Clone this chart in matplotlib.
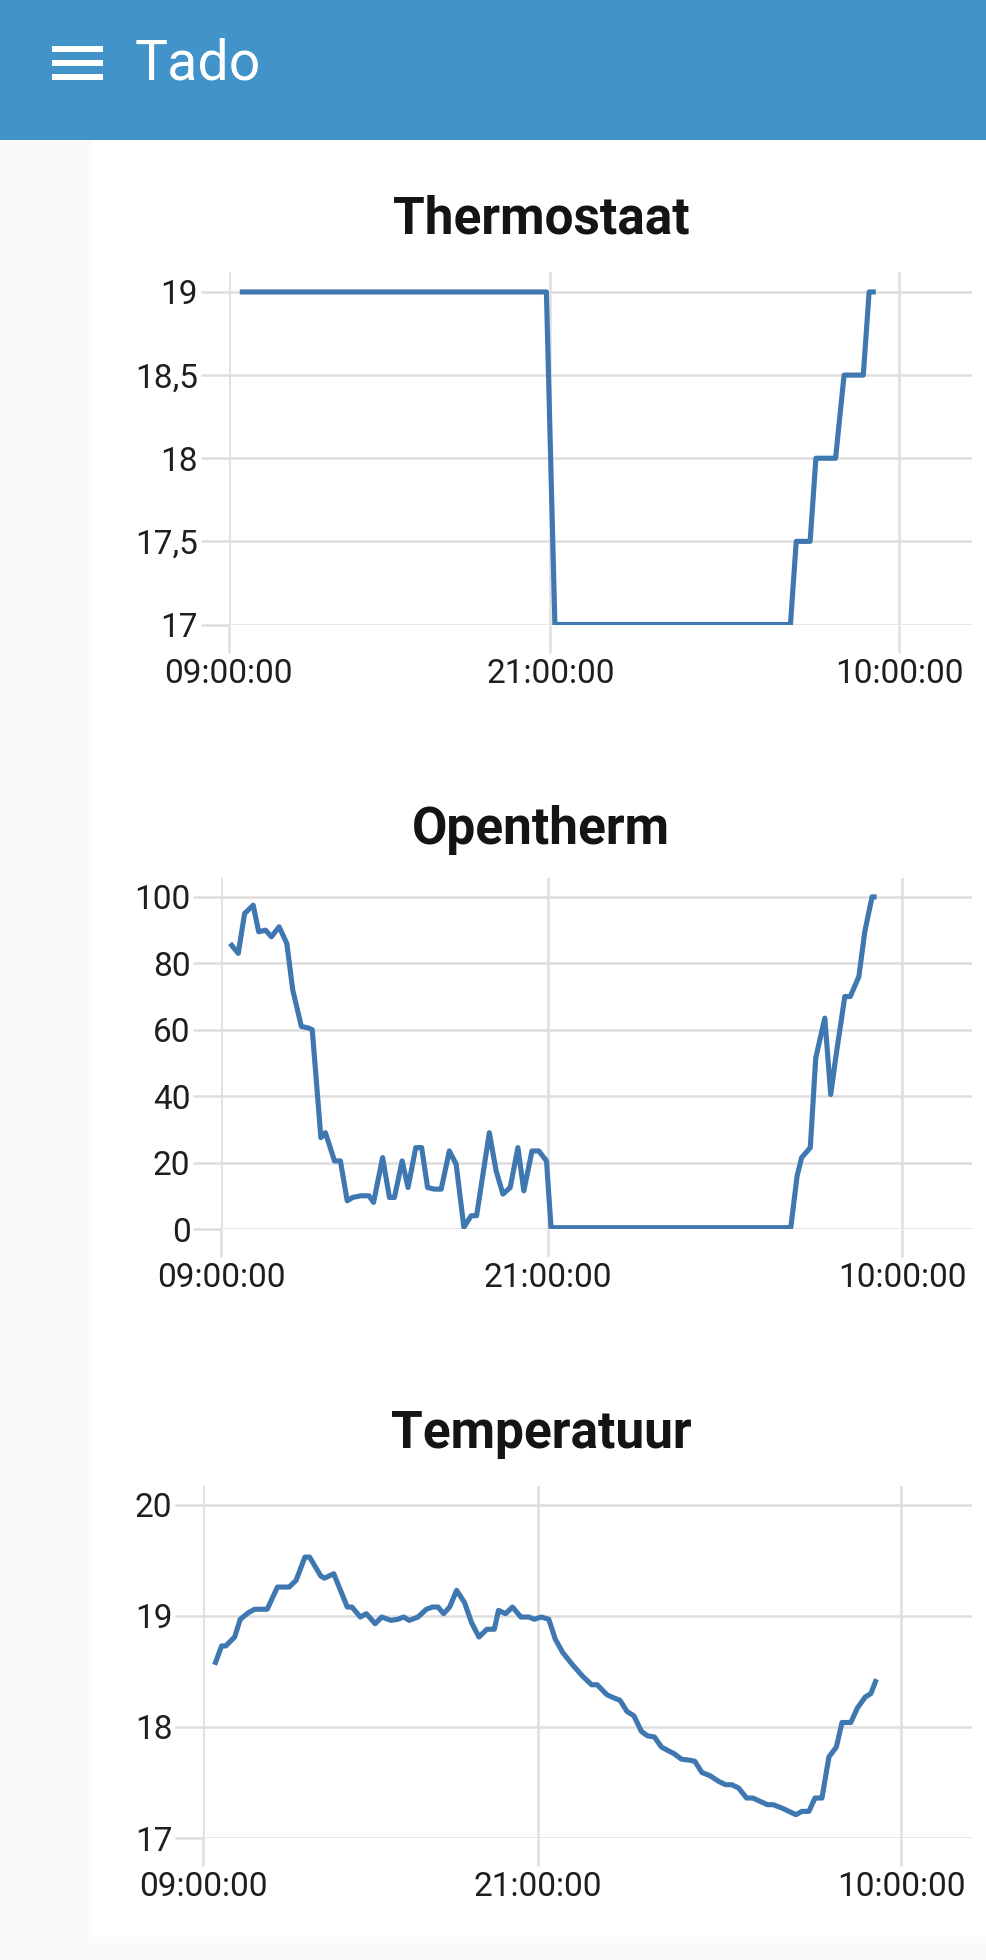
import matplotlib
matplotlib.use("Agg")
import matplotlib.pyplot as plt
import matplotlib.dates as mdates
from matplotlib.patches import Rectangle
import pandas as pd

#-Colors--------------------------------------------
header_blue = "#4193c9"
page_gray = "#fafafa"
line_blue = "#3f77b0"
grid_gray = "#dedede"
text_dark = "#1e1e1e"
#--------------------------------------------------

# Thermostaat setpoint (graden)
thermo_times = ["09:25", "20:51", "21:10", "05:57", "06:10", "06:41",
                "06:54", "07:38", "07:57", "08:40", "08:53", "09:08"]
thermo_values = [19, 19, 17, 17, 17.5, 17.5, 18, 18, 18.5, 18.5, 19, 19]

# Opentherm modulatie (%)
ot_times = ["09:20", "09:38", "09:52", "10:11", "10:23", "10:38", "10:51", "11:08",
            "11:25", "11:38", "11:57", "12:13", "12:21", "12:40", "12:50", "13:10",
            "13:23", "13:38", "13:50", "14:08", "14:26", "14:36", "14:56", "15:11",
            "15:22", "15:39", "15:52", "16:09", "16:22", "16:35", "16:50", "17:05",
            "17:23", "17:38", "17:55", "18:11", "18:23", "18:51", "19:06", "19:21",
            "19:37", "19:54", "20:07", "20:25", "20:40", "20:57", "21:07", "05:55",
            "06:09", "06:19", "06:38", "06:50", "07:10", "07:23", "07:35", "07:54",
            "08:06", "08:25", "08:38", "08:54", "09:04"]
ot_values = [86, 83, 95, 97.5, 89.5, 90, 88, 91,
             86, 72, 61, 60.5, 60, 27.5, 29, 20.5,
             20.5, 8.5, 9.5, 10, 10, 8, 21.5, 9.5,
             9.5, 20.5, 12.5, 24.5, 24.5, 12.5, 12, 12,
             23.5, 19.5, 0.5, 4, 4, 29, 17.5, 10.5,
             12.5, 24.5, 11.5, 23.5, 23.5, 20.5, 0.4, 0.4,
             16, 21.5, 24.5, 51.5, 63.5, 40.5, 52.5, 70,
             70, 76, 89.5, 100, 100]

# Kamertemperatuur (graden)
temp_times = ["09:25", "09:40", "09:49", "10:08", "10:20", "10:38", "10:51", "11:18",
              "11:40", "12:05", "12:20", "12:39", "12:49", "13:13", "13:21", "13:41",
              "14:10", "14:20", "14:38", "14:51", "15:10", "15:24", "15:44", "15:59",
              "16:11", "16:23", "16:42", "17:00", "17:13", "17:25", "17:37", "17:50",
              "18:05", "18:22", "18:37", "18:53", "19:10", "19:26", "19:35", "19:50",
              "20:05", "20:23", "20:40", "20:52", "21:07", "21:23", "21:37", "21:53",
              "22:14", "22:35", "22:55", "23:07", "23:28", "23:44", "23:56", "00:11",
              "00:26", "00:42", "00:55", "01:10", "01:25", "01:38", "01:52", "02:08",
              "02:27", "02:37", "02:52", "03:10", "03:28", "03:43", "03:56", "04:11",
              "04:28", "04:42", "04:57", "05:13", "05:25", "05:44", "05:59", "06:14",
              "06:27", "06:42", "06:55", "07:10", "07:25", "07:41", "07:53", "08:12",
              "08:26", "08:43", "08:55", "09:07"]
temp_values = [18.56, 18.73, 18.73, 18.81, 18.97, 19.03, 19.06, 19.06,
               19.26, 19.26, 19.32, 19.53, 19.53, 19.36, 19.34, 19.38,
               19.08, 19.08, 18.99, 19.02, 18.93, 18.99, 18.96, 18.97,
               18.99, 18.96, 18.99, 19.06, 19.08, 19.08, 19.02, 19.08,
               19.23, 19.12, 18.94, 18.81, 18.88, 18.88, 19.05, 19.02,
               19.08, 18.99, 18.99, 18.97, 18.99, 18.97, 18.79, 18.67,
               18.56, 18.46, 18.38, 18.38, 18.29, 18.26, 18.24, 18.14,
               18.10, 17.96, 17.92, 17.91, 17.82, 17.79, 17.76, 17.71,
               17.70, 17.69, 17.59, 17.56, 17.51, 17.48, 17.48, 17.45,
               17.36, 17.36, 17.33, 17.30, 17.30, 17.27, 17.24, 17.21,
               17.24, 17.24, 17.36, 17.36, 17.73, 17.82, 18.04, 18.04,
               18.17, 18.27, 18.30, 18.43]

x_ticks = ["2024-01-01 09:00", "2024-01-01 21:00", "2024-01-02 10:00"]
thermo_yticks = [17, 17.5, 18, 18.5, 19]
ot_yticks = [0, 20, 40, 60, 80, 100]
temp_yticks = [17, 18, 19, 20]

START = pd.Timestamp("2024-01-01")


def to_times(labels):
    # clock times -> datetimes, rolling over to the next day after midnight
    out, day, prev = [], 0, None
    for s in labels:
        td = pd.Timedelta(hours=int(s[:2]), minutes=int(s[3:]))
        if prev is not None and td < prev:
            day += 1
        prev = td
        out.append(START + pd.Timedelta(days=day) + td)
    return out


W, H = 987, 1960
plt.rcParams["font.family"] = ["Roboto", "DejaVu Sans"]
fig = plt.figure(figsize=(W / 100, H / 100), dpi=100, facecolor=page_gray)


def px_rect(x0, y0, x1, y1, color):
    fig.patches.append(Rectangle((x0 / W, 1 - y1 / H), (x1 - x0) / W, (y1 - y0) / H,
                                 transform=fig.transFigure, facecolor=color,
                                 edgecolor="none", zorder=-5))


# page: white card, blue header, hamburger
px_rect(92, 140, W, 1937, "white")
px_rect(0, 0, W, 140, header_blue)
for y0 in (46.5, 60.5, 74.5):
    px_rect(52, y0, 103, y0 + 5.5, "white")
fig.text(135 / W, 1 - 80 / H, "Tado", color="white", fontsize=40,
         ha="left", va="baseline")


def panel(title, times, values, yticks, ylabels, ylim, left, top, bottom, xmax_h,
          title_base):
    ax = fig.add_axes([left / W, 1 - bottom / H, (972 - left) / W, (bottom - top) / H])
    ax.set_facecolor("none")
    ax.plot(to_times(times), values, color=line_blue, lw=3.7, zorder=3,
            solid_joinstyle="round", solid_capstyle="butt")
    ax.set_ylim(*ylim)
    ax.set_xlim(pd.Timestamp(x_ticks[0]),
                pd.Timestamp(x_ticks[0]) + pd.Timedelta(hours=xmax_h))
    ax.set_xticks([pd.Timestamp(t) for t in x_ticks])
    ax.xaxis.set_major_formatter(mdates.DateFormatter("%H:%M:%S"))
    ax.set_yticks(yticks)
    ax.set_yticklabels(ylabels)
    ax.grid(True, color=grid_gray, lw=1.8, zorder=0)
    ax.tick_params(axis="both", length=20, width=1.8, color=grid_gray,
                   labelsize=24, labelcolor=text_dark, pad=2)
    ax.tick_params(axis="x", pad=4)
    for s in ax.spines.values():
        s.set_visible(False)
    fig.text(541 / W, 1 - title_base / H, title, fontsize=37, fontweight="bold",
             color="#141414", ha="center", va="baseline")
    return ax


panel("Thermostaat", thermo_times, thermo_values, thermo_yticks,
      ["17", "17,5", "18", "18,5", "19"], (17, 19.12),
      228.6, 272, 624.5, 27.72, 234)
panel("Opentherm", ot_times, ot_values, ot_yticks,
      [str(v) for v in ot_yticks], (0, 105.7),
      221, 878, 1229, 27.57, 844)
panel("Temperatuur", temp_times, temp_values, temp_yticks,
      [str(v) for v in temp_yticks], (17, 20.17),
      203, 1486, 1838, 27.54, 1448)

fig.savefig("out.png", dpi=100, facecolor=fig.get_facecolor())
